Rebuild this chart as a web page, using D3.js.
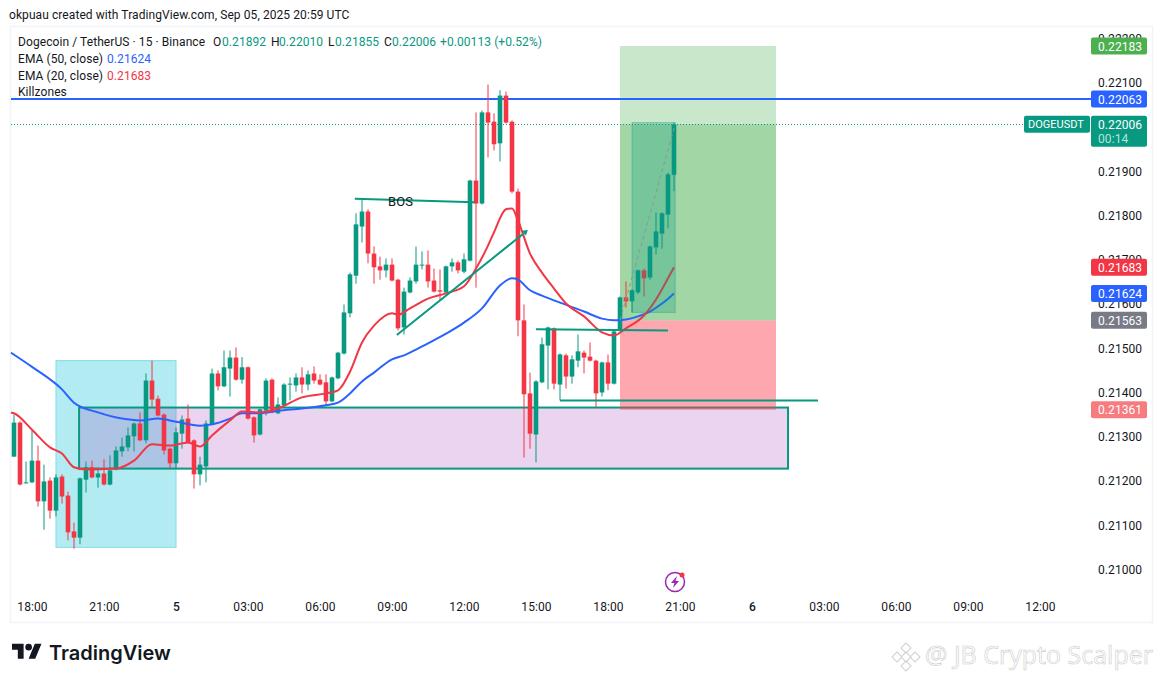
<!DOCTYPE html>
<html>
<head>
<meta charset="utf-8">
<script src="https://cdn.jsdelivr.net/npm/d3@7"></script>
<style>
  html, body { margin: 0; padding: 0; background: #fff; }
  svg { display: block; }
  text { font-family: Roboto, "Noto Sans", sans-serif; font-size: 12px; letter-spacing: 0.08px; fill: #131722; }
</style>
</head>
<body>
<div id="chart"></div>
<script>
// 15 minute candles, first bar is 17:15 on Sep 4
var opens = [0.21255,0.21332,0.21195,0.21197,0.21246,0.21154,0.21201,0.21133,0.21210,0.21167,0.21086,0.21072,0.21203,0.21231,0.21208,0.21217,0.21192,0.21226,0.21267,0.21276,
  0.21301,0.21330,0.21292,0.21427,0.21386,0.21350,0.21273,0.21240,0.21307,0.21341,0.21292,0.21215,0.21233,0.21328,0.21443,0.21414,0.21454,0.21479,0.21429,0.21457,
  0.21344,0.21305,0.21359,0.21429,0.21353,0.21371,0.21418,0.21416,0.21434,0.21418,0.21443,0.21429,0.21423,0.21380,0.21432,0.21488,0.21579,0.21664,0.21775,0.21809,
  0.21714,0.21685,0.21676,0.21689,0.21655,0.21547,0.21626,0.21651,0.21688,0.21689,0.21653,0.21631,0.21626,0.21685,0.21694,0.21673,0.21698,0.21879,0.21827,0.22033,
  0.22012,0.21963,0.22071,0.22012,0.21854,0.21563,0.21398,0.21305,0.21423,0.21506,0.21545,0.21418,0.21484,0.21436,0.21472,0.21490,0.21481,0.21472,0.21400,0.21468,
  0.21420,0.21540,0.21615,0.21606,0.21626,0.21676,0.21660,0.21728,0.21759,0.21802,0.21892];
var highs = [0.21350,0.21335,0.21244,0.21314,0.21280,0.21237,0.21208,0.21215,0.21215,0.21176,0.21106,0.21208,0.21244,0.21246,0.21231,0.21249,0.21258,0.21278,0.21298,0.21321,
  0.21332,0.21355,0.21443,0.21472,0.21393,0.21353,0.21276,0.21321,0.21348,0.21373,0.21294,0.21255,0.21337,0.21454,0.21450,0.21495,0.21495,0.21502,0.21480,0.21459,
  0.21346,0.21364,0.21432,0.21432,0.21389,0.21421,0.21434,0.21443,0.21457,0.21450,0.21459,0.21441,0.21441,0.21436,0.21492,0.21599,0.21671,0.21805,0.21838,0.21814,
  0.21730,0.21707,0.21703,0.21703,0.21657,0.21637,0.21660,0.21730,0.21719,0.21721,0.21680,0.21678,0.21687,0.21703,0.21698,0.21714,0.21881,0.22033,0.22037,0.22096,
  0.22031,0.22083,0.22080,0.22015,0.21861,0.21599,0.21445,0.21428,0.21524,0.21549,0.21547,0.21488,0.21488,0.21484,0.21531,0.21495,0.21513,0.21474,0.21470,0.21486,
  0.21540,0.21617,0.21651,0.21633,0.21678,0.21680,0.21732,0.21807,0.21807,0.21897,0.22010];
var lows = [0.21255,0.21190,0.21194,0.21195,0.21142,0.21090,0.21115,0.21120,0.21149,0.21066,0.21047,0.21057,0.21174,0.21206,0.21185,0.21190,0.21190,0.21224,0.21255,0.21267,
  0.21267,0.21290,0.21285,0.21366,0.21346,0.21260,0.21228,0.21228,0.21273,0.21285,0.21183,0.21190,0.21197,0.21326,0.21405,0.21412,0.21391,0.21427,0.21420,0.21339,
  0.21287,0.21303,0.21348,0.21353,0.21351,0.21369,0.21382,0.21402,0.21398,0.21405,0.21420,0.21416,0.21371,0.21378,0.21430,0.21486,0.21570,0.21646,0.21739,0.21692,
  0.21646,0.21655,0.21660,0.21651,0.21540,0.21531,0.21624,0.21646,0.21678,0.21637,0.21626,0.21608,0.21624,0.21673,0.21669,0.21669,0.21696,0.21637,0.21825,0.21931,
  0.21947,0.21922,0.22008,0.21850,0.21527,0.21253,0.21273,0.21242,0.21421,0.21407,0.21407,0.21382,0.21409,0.21420,0.21457,0.21443,0.21470,0.21366,0.21391,0.21405,
  0.21418,0.21538,0.21592,0.21581,0.21622,0.21617,0.21655,0.21712,0.21725,0.21771,0.21855];
var closes = [0.21332,0.21192,0.21197,0.21246,0.21154,0.21199,0.21133,0.21208,0.21165,0.21084,0.21072,0.21206,0.21231,0.21208,0.21217,0.21192,0.21224,0.21269,0.21278,0.21303,
  0.21330,0.21292,0.21427,0.21384,0.21348,0.21269,0.21240,0.21310,0.21339,0.21287,0.21215,0.21237,0.21330,0.21443,0.21414,0.21457,0.21479,0.21429,0.21457,0.21341,
  0.21303,0.21362,0.21427,0.21355,0.21373,0.21418,0.21420,0.21434,0.21418,0.21441,0.21427,0.21418,0.21380,0.21434,0.21490,0.21581,0.21667,0.21780,0.21809,0.21714,
  0.21683,0.21676,0.21689,0.21653,0.21545,0.21628,0.21653,0.21689,0.21689,0.21651,0.21628,0.21628,0.21685,0.21694,0.21676,0.21701,0.21879,0.21827,0.22033,0.22010,
  0.21961,0.22071,0.22010,0.21854,0.21563,0.21396,0.21307,0.21425,0.21509,0.21547,0.21420,0.21486,0.21436,0.21475,0.21493,0.21479,0.21472,0.21398,0.21468,0.21420,
  0.21538,0.21615,0.21606,0.21631,0.21676,0.21658,0.21730,0.21764,0.21805,0.21893,0.22006];

var ema50Bars = [-0.5,3,8,10,14,18,21,24,27,31,33,36,38,41,44,48,52,54,56,58,60,63,65,67,69,72,75,78,81,83,84,86,88,91,95,98,100,102,104,106,108,110];
var ema50 = [0.21490,0.21458,0.21407,0.21377,0.21355,0.21341,0.21337,0.21341,0.21334,0.21325,0.21328,0.21341,0.21353,0.21353,0.21359,0.21364,0.21371,0.21377,0.21398,0.21425,0.21445,
  0.21475,0.21484,0.21497,0.21511,0.21533,0.21558,0.21590,0.21642,0.21658,0.21655,0.21631,0.21619,0.21603,0.21583,0.21567,0.21563,0.21565,0.21572,0.21583,0.21601,0.21624];
var ema20Bars = [-0.5,0,3,6,8,10,12,17,20,23,26,29,31,33,36,38,41,44,48,52,54,56,58,60,63,64,66,69,72,75,77,79,80,82,83,84,86,88,90,92,95,98,100,102,105,107,109,110];
var ema20 = [0.21355,0.21353,0.21316,0.21276,0.21262,0.21231,0.21226,0.21228,0.21246,0.21283,0.21280,0.21287,0.21278,0.21303,0.21337,0.21357,0.21355,0.21364,0.21389,0.21398,0.21405,0.21447,0.21513,0.21551,
  0.21579,0.21576,0.21590,0.21612,0.21624,0.21640,0.21680,0.21732,0.21762,0.21814,0.21816,0.21789,0.21714,0.21671,0.21635,0.21601,0.21572,0.21536,0.21529,0.21545,0.21574,0.21610,0.21658,0.21683];

var priceTicks = [0.21,0.211,0.212,0.213,0.214,0.215,0.216,0.217,0.218,0.219,0.22,0.221,0.222];
var timeBars = [3,15,27,39,51,63,75,87,99,111,123,135,147,159,171];
var timeLabels = ["18:00","21:00","5","03:00","06:00","09:00","12:00","15:00","18:00","21:00","6","03:00","06:00","09:00","12:00"];

var priceTags = [0.22183,0.22063,0.21683,0.21624,0.21563,0.21361];
var tagColors = ["#4caf50","#2962ff","#f23645","#2962ff","#787b86","#f77c80"];
var lastPrice = 0.22006;

var green = "#089981", red = "#f23645", blue = "#2962ff";

var svg = d3.select("#chart").append("svg").attr("width", 1162).attr("height", 682);
var x = d3.scaleLinear().domain([0, 110]).range([14, 674]);
var y = d3.scaleLinear().domain([0.21, 0.221]).range([569.5, 82.75]);
var paneLeft = 11, paneRight = 1091;

function fmt(d) { return d.toFixed(5); }

svg.append("text").attr("x", 9).attr("y", 19).text("okpuau created with TradingView.com, Sep 05, 2025 20:59 UTC");
svg.append("rect").attr("x", 10.5).attr("y", 26.5).attr("width", 1142).attr("height", 596)
  .attr("fill", "#fff").attr("stroke", "#f0f3fa").attr("stroke-width", 1.5);

// zones behind the candles
function zone(b0, b1, p0, p1, fill, stroke, sw) {
  svg.append("rect")
    .attr("x", x(b0)).attr("width", x(b1) - x(b0))
    .attr("y", y(p1)).attr("height", y(p0) - y(p1))
    .attr("fill", fill).attr("stroke", stroke || "none").attr("stroke-width", sw || 0);
}
zone(7, 27, 0.21050, 0.21472, "rgba(0,188,212,0.3)", "#80deea", 1);
zone(10.85, 129, 0.21228, 0.21366, "rgba(156,39,176,0.2)", green, 2);

// long position
zone(101, 127, 0.21563, 0.22183, "rgba(76,175,80,0.3)");
zone(101, 127, 0.21563, 0.22006, "rgba(76,175,80,0.3)");
zone(101, 127, 0.21361, 0.21563, "rgba(255,60,75,0.45)");

// price lines
svg.append("line").attr("x1", paneLeft).attr("x2", paneRight).attr("y1", Math.round(y(lastPrice)) + 0.5).attr("y2", Math.round(y(lastPrice)) + 0.5)
  .attr("stroke", green).attr("stroke-width", 1).attr("stroke-dasharray", "1 2");
svg.append("line").attr("x1", paneLeft).attr("x2", paneRight).attr("y1", y(0.22063)).attr("y2", y(0.22063))
  .attr("stroke", blue).attr("stroke-width", 2);

// candles
var candles = d3.range(opens.length);
svg.selectAll("line.wick").data(candles).enter().append("line")
  .attr("class", "wick")
  .attr("x1", function(i){ return x(i); })
  .attr("x2", function(i){ return x(i); })
  .attr("y1", function(i){ return y(highs[i]); })
  .attr("y2", function(i){ return y(lows[i]); })
  .attr("stroke", function(i){ return closes[i] >= opens[i] ? green : red; })
  .attr("stroke-width", 1);
svg.selectAll("rect.body").data(candles).enter().append("rect")
  .attr("class", "body")
  .attr("x", function(i){ return x(i) - 2.3; })
  .attr("width", 4.6)
  .attr("y", function(i){ return y(Math.max(opens[i], closes[i])); })
  .attr("height", function(i){ return Math.max(1, Math.abs(y(opens[i]) - y(closes[i]))); })
  .attr("fill", function(i){ return closes[i] >= opens[i] ? green : red; });

// EMAs
var emaLine = d3.line().x(function(d){ return x(d[0]); }).y(function(d){ return y(d[1]); }).curve(d3.curveMonotoneX);
svg.append("path").attr("d", emaLine(d3.zip(ema50Bars, ema50))).attr("fill", "none").attr("stroke", blue).attr("stroke-width", 2);
svg.append("path").attr("d", emaLine(d3.zip(ema20Bars, ema20))).attr("fill", "none").attr("stroke", red).attr("stroke-width", 2);

// drawings on top
function seg(b0, p0, b1, p1, color, sw, dash) {
  svg.append("line").attr("x1", x(b0)).attr("y1", y(p0)).attr("x2", x(b1)).attr("y2", y(p1))
    .attr("stroke", color).attr("stroke-width", sw).attr("stroke-dasharray", dash || null);
}
zone(103, 110.2, 0.21581, 0.22010, "rgba(8,153,129,0.28)", "rgba(8,153,129,0.35)", 1);
seg(101, 0.21563, 110.2, 0.22006, "#8a9a8a", 1, "4 3");
seg(56.8, 0.21838, 76.8, 0.21830, green, 2);
seg(63.8, 0.21530, 85, 0.21760, green, 2);
seg(87, 0.21543, 109, 0.21540, green, 2);
seg(91, 0.21382, 134, 0.21382, green, 2);
svg.append("path")
  .attr("transform", "translate(" + x(85) + "," + y(0.21760) + ") rotate(-39)")
  .attr("d", "M0,-3 L5,0 L0,3 Z").attr("fill", green);
svg.append("text").attr("x", 388).attr("y", 206).text("BOS").style("font-size", "13px");

// axes
var yAxis = d3.axisRight(y).tickValues(priceTicks).tickFormat(fmt).tickSize(0).tickPadding(0);
var gy = svg.append("g").attr("transform", "translate(1098,0)").call(yAxis);
gy.select(".domain").remove();
gy.selectAll("text").style("font-size", "12px").style("font-family", "Roboto");

var xAxis = d3.axisBottom(x).tickValues(timeBars).tickFormat(function(d, i){ return timeLabels[i]; }).tickSize(0).tickPadding(0);
var gx = svg.append("g").attr("transform", "translate(0,602)").call(xAxis);
gx.select(".domain").remove();
gx.selectAll("text").style("font-size", "12px").style("font-family", "Roboto")
  .style("font-weight", function(d, i){ return timeLabels[i].length == 1 ? 500 : 400; });

// price tags
var tags = svg.selectAll("g.tag").data(priceTags).enter().append("g").attr("class", "tag")
  .attr("transform", function(d){ return "translate(1091," + (y(d) - 8.5) + ")"; });
tags.append("rect").attr("width", 56).attr("height", 17).attr("rx", 2)
  .attr("fill", function(d, i){ return tagColors[i]; });
tags.append("text").attr("x", 7).attr("y", 13).text(fmt).style("fill", "#fff");

var last = svg.append("g").attr("transform", "translate(0," + (y(lastPrice) - 8.5) + ")");
last.append("rect").attr("x", 1024).attr("width", 66).attr("height", 17).attr("rx", 2).attr("fill", green);
last.append("text").attr("x", 1028).attr("y", 12.5).text("DOGEUSDT").style("fill", "#fff").style("font-size", "11px").style("letter-spacing", "0");
last.append("rect").attr("x", 1091).attr("width", 56).attr("height", 31).attr("rx", 2).attr("fill", green);
last.append("text").attr("x", 1098).attr("y", 13).text(fmt(lastPrice)).style("fill", "#fff");
last.append("text").attr("x", 1098).attr("y", 27).text("00:14").style("fill", "#b9e5dc");

// legend
function legend(px, py, txt, color) {
  svg.append("text").attr("x", px).attr("y", py).text(txt).style("fill", color || "#131722");
}
legend(18, 46, "Dogecoin / TetherUS · 15 · Binance");
legend(213, 46, "O"); legend(222, 46, "0.21892", green);
legend(271, 46, "H"); legend(279, 46, "0.22010", green);
legend(328, 46, "L");  legend(335, 46, "0.21855", green);
legend(384, 46, "C"); legend(392, 46, "0.22006", green);
legend(440, 46, "+0.00113 (+0.52%)", green);
legend(18, 63, "EMA (50, close)"); legend(107, 63, "0.21624", blue);
legend(18, 80, "EMA (20, close)"); legend(107, 80, "0.21683", red);
legend(18, 96, "Killzones");

// bolt marker
var bolt = svg.append("g").attr("transform", "translate(675,582)");
bolt.append("circle").attr("r", 9.5).attr("fill", "#fff").attr("stroke", "#9c27b0").attr("stroke-width", 1.5);
bolt.append("path").attr("d", "M2,-6 L-4,1 L-0.5,1 L-2,6 L4,-1 L0.5,-1 Z").attr("fill", "#9c27b0");
bolt.append("circle").attr("cx", 7).attr("cy", -7).attr("r", 2.5).attr("fill", "#f23645");

// TradingView logo
var logo = svg.append("g").attr("transform", "translate(12,640.5) scale(0.83)");
logo.append("path").attr("d", "M14 22H7V11H0V4h14v18zM28 22h-8l7.5-18h8L28 22z").attr("fill", "#131722");
logo.append("circle").attr("cx", 20).attr("cy", 8).attr("r", 4).attr("fill", "#131722");
svg.append("text").attr("x", 49).attr("y", 660).text("TradingView")
  .style("font-family", "Inter").style("font-size", "20px").style("font-weight", 600).style("letter-spacing", "0");

// watermark
var mark = svg.append("g").attr("transform", "translate(906,657)")
  .attr("fill", "none").attr("stroke", "#cfcfcf").attr("stroke-width", 1);
[[0,-9],[-9,0],[9,0],[0,9],[0,0]].forEach(function(c){
  mark.append("rect").attr("x", c[0] - 3.5).attr("y", c[1] - 3.5).attr("width", 7).attr("height", 7)
    .attr("transform", "rotate(45 " + c[0] + " " + c[1] + ")");
});
svg.append("text").attr("x", 925).attr("y", 664).text("@ JB Crypto Scalper")
  .style("font-family", "Open Sans").style("font-size", "25px").style("letter-spacing", "0")
  .style("fill", "#fff").style("stroke", "#cccccc").style("stroke-width", 0.6);
</script>
</body>
</html>
